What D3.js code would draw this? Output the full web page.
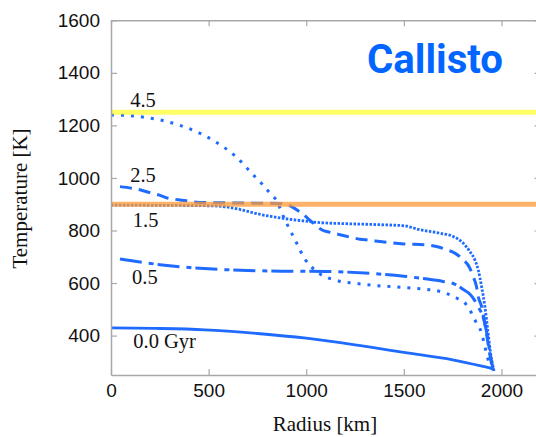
<!DOCTYPE html>
<html>
<head>
<meta charset="utf-8">
<script src="https://cdn.jsdelivr.net/npm/d3@7"></script>
<style>
  body { margin: 0; background: #fff; }
  svg { display: block; }
</style>
</head>
<body>
<svg id="chart" width="536" height="437"></svg>
<script>
// Callisto - interior temperature profiles at several ages
const xTicks = [0, 500, 1000, 1500, 2000];
const yTicks = [400, 600, 800, 1000, 1200, 1400, 1600];

// 0.0 Gyr (solid)
const r00 = [0, 250, 480, 750, 1000, 1250, 1500, 1750, 1900, 1940, 1958];
const t00 = [429, 427, 422, 408, 390, 365, 336, 308, 284, 277, 272];

// 0.5 Gyr (dash-dot)
const r05 = [46, 150, 250, 400, 500, 700, 900, 1100, 1300, 1500, 1600, 1700, 1760, 1805, 1840, 1860, 1880, 1905, 1925, 1942, 1958];
const t05 = [692, 680, 670, 659, 654, 648, 645, 644, 638, 626, 617, 606, 596, 575, 556, 537, 510, 473, 410, 330, 268];

// 1.5 Gyr (fine dots)
const r15 = [0, 200, 400, 506, 600, 660, 760, 865, 968, 1070, 1200, 1377, 1500, 1582, 1684, 1753, 1804, 1838, 1864, 1881, 1898, 1915, 1930, 1945, 1962];
const t15 = [897, 896, 895, 894, 889, 880, 862, 848, 838, 830, 826, 822, 818, 803, 790, 777, 752, 720, 688, 650, 587, 511, 420, 330, 265];

// 2.5 Gyr (dashed)
const r25 = [46, 106, 148, 200, 242, 293, 345, 396, 450, 600, 750, 865, 925, 976, 1036, 1079, 1121, 1172, 1223, 1275, 1326, 1377, 1500, 1616, 1667, 1718, 1761, 1804, 1838, 1855, 1872, 1881, 1898, 1923, 1940, 1955];
const t25 = [967, 961, 955, 944, 936, 923, 917, 912, 907, 905, 904, 903, 891, 866, 828, 803, 793, 784, 775, 767, 763, 758, 749, 745, 739, 727, 714, 689, 657, 625, 587, 549, 511, 410, 330, 268];

// 4.5 Gyr (sparse dots)
const r45 = [0, 100, 148, 251, 345, 447, 541, 640, 728, 775, 814, 855, 874, 921, 945, 969, 998, 1041, 1092, 1142, 1189, 1240, 1336, 1500, 1582, 1684, 1770, 1821, 1872, 1898, 1915, 1932, 1949, 1958];
const t45 = [1240, 1237, 1233, 1221, 1202, 1173, 1135, 1081, 1012, 976, 942, 905, 869, 796, 761, 724, 686, 651, 625, 613, 604, 600, 592, 583, 578, 568, 543, 517, 448, 410, 359, 308, 283, 266];

// reference temperatures (horizontal bands)
const bandTemps = [1250, 900];

// curve labels: text, radius, temperature of baseline
const labelText = ['4.5', '2.5', '1.5', '0.5', '0.0 Gyr'];
const labelR = [98, 98, 112, 108, 114];
const labelT = [1270, 983, 815, 597, 354];

const svg = d3.select('#chart');
const x = d3.scaleLinear().domain([0, 2200]).range([111, 540.5]);
const y = d3.scaleLinear().domain([250, 1600]).range([375, 20.3]);

const blue = '#1f6bff';
const frame = '#a8a8a8';
const serif = '"Liberation Serif", "Times New Roman", Times, serif';

const series = [
  { r: r00, t: t00, dash: null, w: 2.8 },
  { r: r05, t: t05, dash: '22,7,5,4', w: 3 },
  { r: r15, t: t15, dash: '2.5,1.5', w: 2.8 },
  { r: r25, t: t25, dash: '12,7', w: 3 },
  { r: r45, t: t45, dash: '3,7', w: 3 }
];

const line = d3.line()
  .x(d => x(d[0]))
  .y(d => y(d[1]))
  .curve(d3.curveMonotoneX);

svg.append('g')
  .selectAll('path')
  .data(series)
  .enter()
  .append('path')
  .attr('d', s => line(s.r.map((r, i) => [r, s.t[i]])))
  .attr('fill', 'none')
  .attr('stroke', blue)
  .attr('stroke-width', s => s.w)
  .attr('stroke-dasharray', s => s.dash);

// bands drawn over the curves
const bandColors = ['#ffff00', '#ff9933'];
const bandOpacity = [0.6, 0.75];
svg.append('g')
  .selectAll('line')
  .data(bandTemps)
  .enter()
  .append('line')
  .attr('x1', x(0))
  .attr('x2', x(2200))
  .attr('y1', d => y(d))
  .attr('y2', d => y(d))
  .attr('stroke', (d, i) => bandColors[i])
  .attr('stroke-opacity', (d, i) => bandOpacity[i])
  .attr('stroke-width', 5);

// axes with inward ticks
function styleAxis(g) {
  g.attr('font-family', '"Liberation Sans", Arial, Helvetica, sans-serif').attr('font-size', 19);
  g.selectAll('.domain').attr('stroke', frame).attr('stroke-width', 1.5);
  g.selectAll('.tick line').attr('stroke', frame).attr('stroke-width', 1.2);
  g.selectAll('.tick text').attr('fill', '#111');
}

const fmt = d3.format('d');

svg.append('g')
  .attr('transform', `translate(0,${y(250)})`)
  .call(d3.axisBottom(x).tickValues(xTicks).tickFormat(fmt).tickSize(-6).tickSizeOuter(0).tickPadding(9))
  .call(styleAxis);

svg.append('g')
  .attr('transform', `translate(0,${y(1600)})`)
  .call(d3.axisTop(x).tickValues(xTicks).tickSize(-6).tickSizeOuter(0).tickFormat(''))
  .call(styleAxis);

svg.append('g')
  .attr('transform', `translate(${x(0)},0)`)
  .call(d3.axisLeft(y).tickValues(yTicks).tickFormat(fmt).tickSize(-6).tickSizeOuter(0).tickPadding(11))
  .call(styleAxis);

svg.append('g')
  .attr('transform', `translate(${x(2200)},0)`)
  .call(d3.axisRight(y).tickValues(yTicks).tickSize(-6).tickSizeOuter(0).tickFormat(''))
  .call(styleAxis);

// curve labels
svg.append('g')
  .selectAll('text')
  .data(labelText)
  .enter()
  .append('text')
  .attr('x', (d, i) => x(labelR[i]))
  .attr('y', (d, i) => y(labelT[i]))
  .attr('font-family', serif)
  .attr('font-size', 20.5)
  .attr('fill', '#111')
  .text(d => d);

// axis titles
svg.append('text')
  .attr('x', 325)
  .attr('y', 431)
  .attr('text-anchor', 'middle')
  .attr('font-family', serif)
  .attr('font-size', 21)
  .attr('fill', '#111')
  .text('Radius [km]');

svg.append('text')
  .attr('transform', 'translate(26.5,198.5) rotate(-90)')
  .attr('text-anchor', 'middle')
  .attr('font-family', serif)
  .attr('font-size', 21)
  .attr('fill', '#111')
  .text('Temperature [K]');

// moon name
svg.append('text')
  .attr('x', 367)
  .attr('y', 72.7)
  .attr('font-family', 'Roboto, "Liberation Sans", sans-serif')
  .attr('font-weight', 700)
  .attr('font-size', 41)
  .attr('fill', '#0066ff')
  .attr('textLength', 136)
  .attr('lengthAdjust', 'spacingAndGlyphs')
  .text('Callisto');
</script>
</body>
</html>
